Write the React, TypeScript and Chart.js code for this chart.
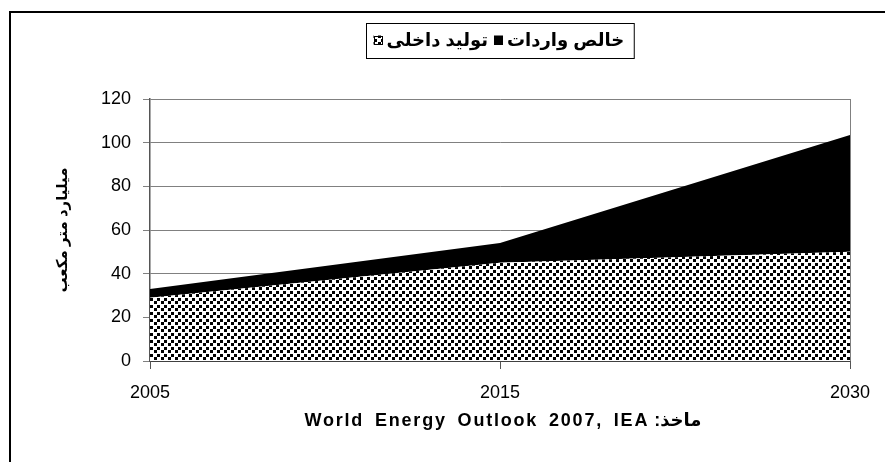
import React, { useEffect, useRef } from 'react';
import { Chart, registerables } from 'chart.js';

Chart.register(...registerables);

const categories = ['2005', '2015', '2030'];
const domesticProduction = [29, 45, 50];
const netImports = [4, 9, 53.5];
const seriesLabels = ['تولید داخلی', 'خالص واردات'];
const yMin = 0;
const yMax = 120;
const yStep = 20;
const yAxisTitle = 'میلیارد متر مکعب';
const sourceLabel = 'ماخذ';
const sourceText = 'World Energy Outlook 2007, IEA';

const FONT = "Arial, 'Liberation Sans', 'DejaVu Sans', sans-serif";

function makeDotPattern(): CanvasPattern | string {
  const c = document.createElement('canvas');
  c.width = 7;
  c.height = 7;
  const g = c.getContext('2d');
  if (!g) return '#888';
  g.fillStyle = '#ffffff';
  g.fillRect(0, 0, 7, 7);
  g.fillStyle = '#000000';
  g.fillRect(0, 0, 3, 3);
  g.fillRect(3, 4, 3, 3);
  const p = g.createPattern(c, 'repeat');
  return p || '#888';
}

const framePlugin = {
  id: 'framePlugin',
  beforeDatasetsDraw(chart: any) {
    const { ctx, chartArea } = chart;
    ctx.save();
    ctx.strokeStyle = '#808080';
    ctx.lineWidth = 1;
    ctx.beginPath();
    ctx.moveTo(Math.round(chartArea.right) + 0.5, chartArea.top);
    ctx.lineTo(Math.round(chartArea.right) + 0.5, chartArea.bottom);
    ctx.stroke();
    ctx.restore();
  },
  afterDraw(chart: any) {
    const { ctx, chartArea, width, height } = chart;
    ctx.save();
    // outer frame (cropped at right/bottom)
    ctx.strokeStyle = '#000';
    ctx.lineWidth = 2;
    ctx.beginPath();
    ctx.moveTo(10, height);
    ctx.lineTo(10, 12);
    ctx.lineTo(width, 12);
    ctx.stroke();

    const cx = (chartArea.left + chartArea.right) / 2;

    // custom legend
    ctx.font = `bold 18px ${FONT}`;
    ctx.textBaseline = 'middle';
    ctx.textAlign = 'left';
    const sym = 9;
    const gapSymText = 4;
    const gapEntries = 6;
    const ds = chart.data.datasets;
    const widths = ds.map((d: any) => ctx.measureText(d.label).width);
    let total = 0;
    widths.forEach((w: number, i: number) => {
      total += sym + gapSymText + w + (i > 0 ? gapEntries : 0);
    });
    const padL = 7;
    const padR = 10;
    const boxW = total + padL + padR;
    const boxX = Math.round(cx - boxW / 2) + 0.5;
    const boxY = 23.5;
    const boxH = 35;
    ctx.fillStyle = '#fff';
    ctx.fillRect(boxX, boxY, boxW, boxH);
    ctx.strokeStyle = '#000';
    ctx.lineWidth = 1;
    ctx.strokeRect(boxX, boxY, boxW, boxH);
    let x = boxX + padL;
    const cy = boxY + boxH / 2;
    ds.forEach((d: any, i: number) => {
      if (i > 0) x += gapEntries;
      ctx.fillStyle = d.backgroundColor;
      ctx.fillRect(x, cy - sym / 2 - 1, sym, sym);
      ctx.strokeStyle = '#000';
      ctx.lineWidth = 1;
      ctx.strokeRect(Math.round(x) + 0.5, Math.round(cy - sym / 2 - 1) + 0.5, sym - 1, sym - 1);
      x += sym + gapSymText;
      ctx.fillStyle = '#000';
      ctx.fillText(d.label, x, cy);
      x += widths[i];
    });

    // source line (x-axis caption)
    const ty = 421;
    const c2: any = ctx;
    ctx.fillStyle = '#000';
    ctx.textBaseline = 'middle';
    ctx.font = `bold 18px ${FONT}`;
    c2.letterSpacing = '1.8px';
    c2.wordSpacing = '4px';
    const latinW = ctx.measureText(sourceText).width;
    c2.letterSpacing = '0px';
    c2.wordSpacing = '0px';
    const arabicPart = ' :' + sourceLabel;
    const arW = ctx.measureText(arabicPart).width;
    const startX = cx + 3 - (latinW + arW) / 2;
    c2.letterSpacing = '1.8px';
    c2.wordSpacing = '4px';
    ctx.fillText(sourceText, startX, ty);
    c2.letterSpacing = '0px';
    c2.wordSpacing = '0px';
    ctx.fillText(arabicPart, startX + latinW, ty);
    ctx.restore();
  },
};

export default function App() {
  const ref = useRef<HTMLCanvasElement | null>(null);

  useEffect(() => {
    if (!ref.current) return;
    const pattern = makeDotPattern();
    const chart = new Chart(ref.current, {
      type: 'line',
      data: {
        labels: categories,
        datasets: [
          {
            label: seriesLabels[0],
            data: domesticProduction,
            backgroundColor: pattern as any,
            borderWidth: 0,
            pointRadius: 0,
            fill: 'origin',
            tension: 0,
          },
          {
            label: seriesLabels[1],
            data: netImports,
            backgroundColor: '#000000',
            borderWidth: 0,
            pointRadius: 0,
            fill: '-1',
            tension: 0,
          },
        ],
      },
      options: {
        responsive: false,
        animation: false,
        layout: { padding: { left: 0, top: 99, right: 35, bottom: 0 } },
        plugins: {
          legend: { display: false },
          tooltip: { enabled: false },
        },
        scales: {
          x: {
            type: 'category',
            offset: false,
            grid: {
              drawOnChartArea: false,
              drawTicks: true,
              tickLength: 8,
              color: '#555',
            },
            border: { color: '#000', width: 1.5 },
            ticks: {
              color: '#000',
              font: { family: FONT, size: 18 },
              padding: 13,
              maxRotation: 0,
            },
            afterFit(scale: any) {
              scale.height = 101;
            },
          },
          y: {
            stacked: true,
            min: yMin,
            max: yMax,
            ticks: {
              stepSize: yStep,
              color: '#000',
              font: { family: FONT, size: 18 },
              padding: 12,
            },
            grid: {
              color: '#808080',
              lineWidth: 1,
              tickLength: 7,
              drawTicks: true,
            },
            border: { color: '#555', width: 1.5 },
            title: {
              display: true,
              text: yAxisTitle,
              color: '#000',
              font: { family: FONT, size: 15, weight: 'bold' },
              padding: { top: 54, bottom: 0 },
            },
            afterFit(scale: any) {
              scale.width = 150;
            },
          },
        },
      },
      plugins: [framePlugin],
    });
    return () => chart.destroy();
  }, []);

  return (
    <div style={{ position: 'absolute', left: 0, top: 0, width: 885, height: 462, background: '#fff' }}>
      <canvas ref={ref} width={885} height={462} style={{ display: 'block' }} />
    </div>
  );
}
